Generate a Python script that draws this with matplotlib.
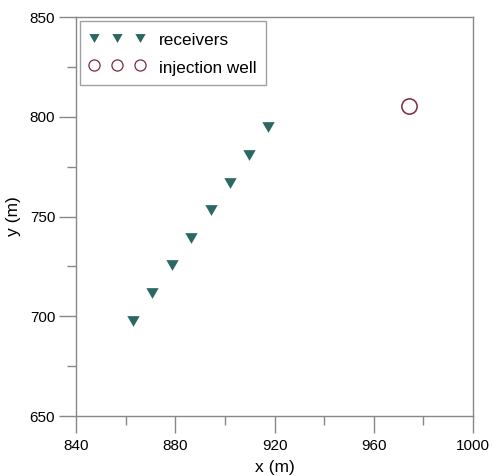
import matplotlib
matplotlib.use("Agg")
import matplotlib.pyplot as plt
from matplotlib.path import Path
from matplotlib.ticker import MultipleLocator

plt.rcParams['font.family'] = ['Liberation Sans', 'DejaVu Sans']

# receiver positions
receiver_x = [863.0, 870.8, 878.7, 886.5, 894.3, 901.9, 909.8, 917.5]
receiver_y = [697.8, 711.7, 725.5, 739.2, 753.1, 766.9, 781.0, 794.9]

# injection well position
well_x = [974.0]
well_y = [805.4]

x_ticks = [840, 880, 920, 960, 1000]
y_ticks = [650, 700, 750, 800, 850]

axis_color = '#888888'
receiver_color = '#2b6863'
well_color = '#7d2838'

# equilateral downward triangle
tri_down = Path([(-1.0, 0.866), (1.0, 0.866), (0.0, -0.866), (-1.0, 0.866)],
                [Path.MOVETO, Path.LINETO, Path.LINETO, Path.CLOSEPOLY])

fig = plt.figure(figsize=(4.92, 4.76), dpi=100)
ax = fig.add_axes([0.1545, 0.126, 0.807, 0.838])

ax.plot(receiver_x, receiver_y, linestyle='none', marker=tri_down, markersize=8.9,
        color=receiver_color, markeredgewidth=0, label='receivers')
ax.plot(well_x, well_y, linestyle='none', marker='o', markersize=11,
        markerfacecolor='none', markeredgecolor=well_color, markeredgewidth=1.1,
        label='injection well')

ax.set_xlim(840, 1000)
ax.set_ylim(650, 850)
ax.set_xticks(x_ticks)
ax.set_yticks(y_ticks)
ax.xaxis.set_minor_locator(MultipleLocator(20))
ax.yaxis.set_minor_locator(MultipleLocator(25))

for s in ax.spines.values():
    s.set_color(axis_color)
    s.set_linewidth(1.0)

ax.tick_params(axis='both', which='major', direction='out', length=12.5,
               width=1.0, color=axis_color, labelsize=11)
ax.tick_params(axis='x', which='major', pad=4)
ax.tick_params(axis='y', which='major', pad=2.5)
ax.tick_params(axis='both', which='minor', direction='out', length=6.5,
               width=1.0, color=axis_color)
ax.tick_params(top=False, right=False, which='both')

ax.set_xlabel('x (m)', fontsize=12.5, labelpad=5)
ax.set_ylabel('y (m)', fontsize=12.5, labelpad=6)

leg = ax.legend(loc='upper left', numpoints=3, fontsize=12.3,
                frameon=True, fancybox=False, edgecolor=axis_color,
                borderaxespad=0.22, handlelength=3.3, handleheight=1.2,
                handletextpad=0.8, borderpad=0.55, labelspacing=0.6)
leg.get_frame().set_linewidth(1.0)
leg_handles = leg.legend_handles
leg_handles[0].set_markersize(7.4)
leg_handles[1].set_markersize(8.0)
leg_handles[1].set_markeredgewidth(0.9)

fig.savefig('out.png', dpi=100)
